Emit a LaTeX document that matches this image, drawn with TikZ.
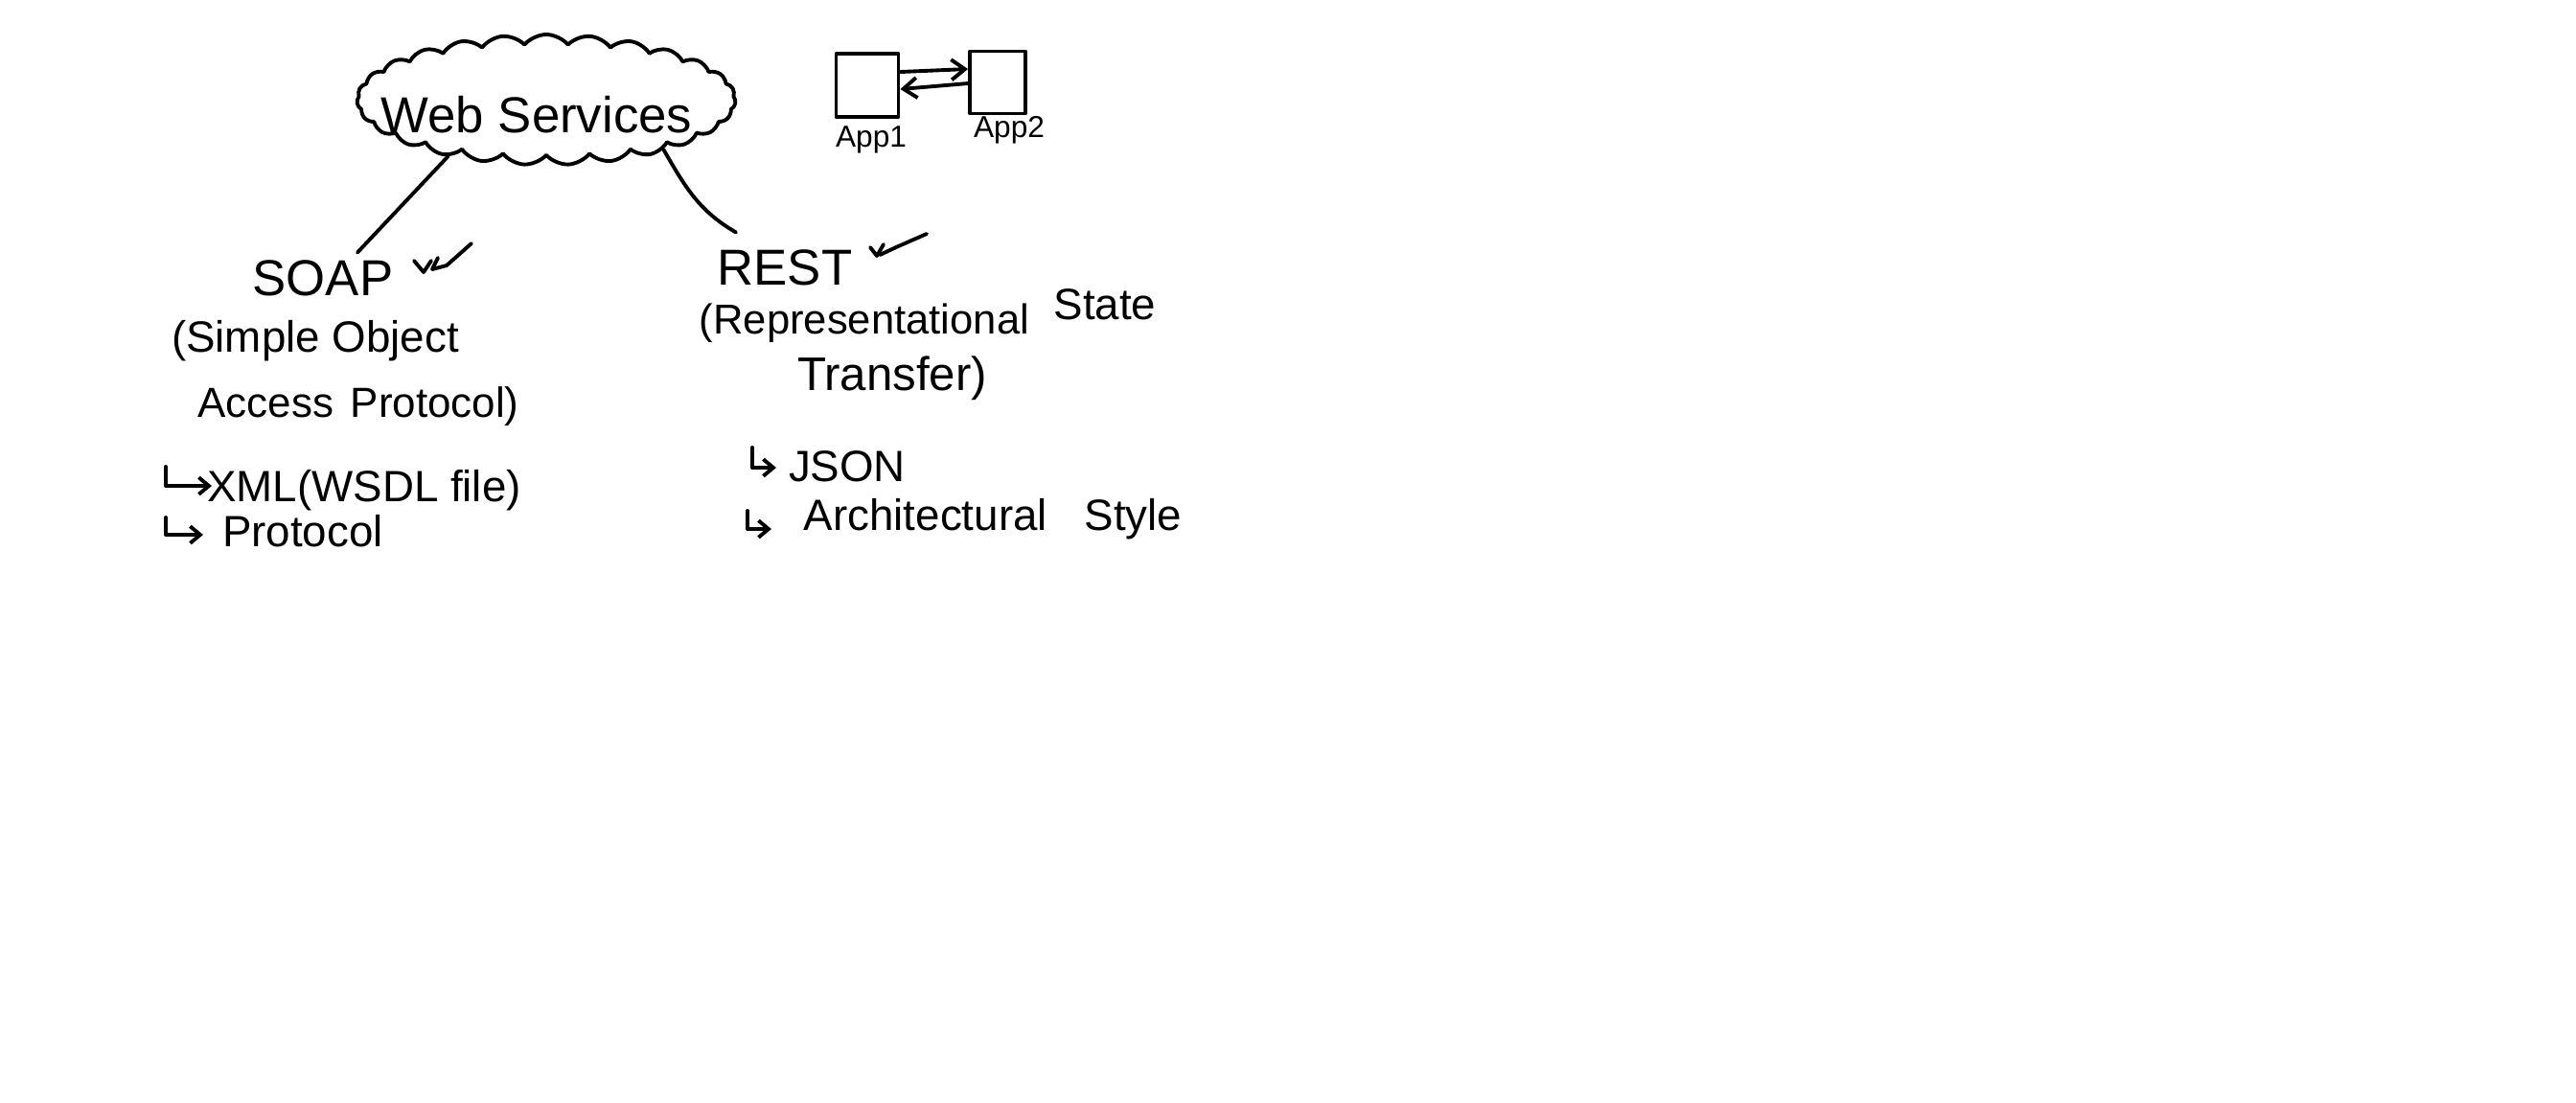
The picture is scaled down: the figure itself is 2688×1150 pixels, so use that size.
\documentclass[tikz,border=0pt]{standalone}
\usepackage{fontspec}
\setmainfont{Liberation Sans}
\usetikzlibrary{shapes.symbols,arrows.meta,calc}
\begin{document}
\begin{tikzpicture}[x=0.01cm,y=-0.01cm,
  ink/.style={line width=1.1pt, line cap=round, line join=round},
  lbl/.style={inner sep=0pt, anchor=base, font=\fontsize{13}{16}\selectfont},
  head/.style={lbl, font=\fontsize{15}{18}\selectfont},
  small/.style={lbl, font=\fontsize{9}{11}\selectfont},
  appbox/.style={draw, ink, minimum width=0.65cm, minimum height=0.66cm, inner sep=0pt},
  tipsty/.style={-{Straight Barb[length=4pt,width=6pt]}},
  hooktip/.style={-{Straight Barb[length=3pt,width=5pt]}},
  cloudsty/.style={cloud, draw, ink, cloud puffs=27, cloud puff arc=100, aspect=3,
    minimum width=3.95cm, minimum height=1.36cm, inner sep=0pt},
]
\useasboundingbox (0,0) rectangle (2688,1150);

% cloud
\node[cloudsty] (ws) at (570,104) {};
\node[lbl, font=\fontsize{15}{18}\selectfont] (wst) at (560,138) {Web Services};

% apps
\node[appbox] (app1) at (905,89) {};
\node[appbox, minimum width=0.58cm, minimum height=0.65cm] (app2) at (1041,86) {};
\node[small] (app1l) at (909,153) {App1};
\node[small] (app2l) at (1053,143) {App2};
\draw[ink,tipsty] ($(app1.east)+(0,-14)$) -- ($(app2.west)+(0,-14)$);
\draw[ink,tipsty] ($(app2.west)+(0,1)$) -- ($(app1.east)+(0,4)$);

% SOAP side
\node[head] (soap) at (337,308) {SOAP};
\node[lbl] (soap1) at (329,367) {(Simple Object};
\node[lbl, font=\fontsize{12.5}{15}\selectfont] (soap2) at (374,435) {Access\hspace{5pt}Protocol)};
\node[lbl] (xml) at (380,523) {XML(WSDL file)};
\node[lbl] (proto) at (316,570) {Protocol};

% REST side
\node[head] (rest) at (819,297) {REST};
\node[lbl, font=\fontsize{12.4}{15}\selectfont] (rest1) at (902,348) {(Representational};
\node[lbl] (rest1b) at (1153,333) {State};
\node[lbl, font=\fontsize{14}{17}\selectfont] (rest2) at (931,407) {Transfer)};
\node[lbl] (json) at (884,502) {JSON};
\node[lbl] (arch) at (1036,553) {Architectural\hspace{11pt}Style};

% connectors from cloud
\draw[ink] (ws.210) -- ($(soap.north)+(36,-7)$);
\draw[ink] (ws.337) to[out=-60,in=150] ($(rest.north west)+(20,-17)$);

% ticks
\draw[ink] (432,272) -- (442,284) -- (450,272);
\draw[ink] (457,269) -- (451,281) -- (466,277) -- (492,254);
\draw[ink] (908,258) -- (915,267) -- (922,255);
\draw[ink] (918,266) -- (935,258) -- (967,244);

% hooks
\draw[ink,hooktip] (173,487) |- (221,507);
\draw[ink,hooktip] (173,540) |- (212,558);
\draw[ink,hooktip] (785,467) |- (810,488);
\draw[ink,hooktip] (780,533) |- (805,552);
\end{tikzpicture}
\end{document}
